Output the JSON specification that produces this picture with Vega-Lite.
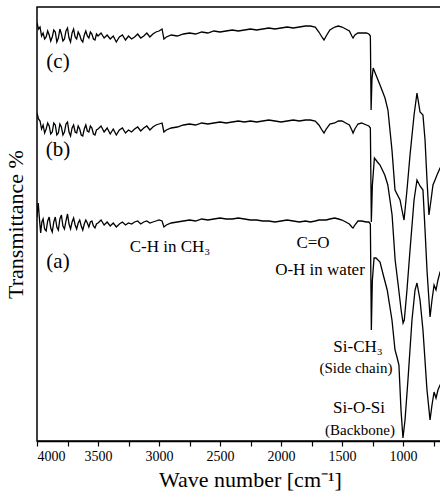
{
"$schema":"https://vega.github.io/schema/vega-lite/v6.json",
"autosize":{"type":"none"},
"padding":{"left":37,"top":7,"right":0,"bottom":53},
"width":405,"height":434,
"background":"white",
"config":{"view":{"stroke":"black","strokeWidth":1.5},"font":"Liberation Serif"},
"datasets":{
"curves":[
{"s":"c","w":4000,"t":418},{"s":"c","w":3987.5,"t":412},{"s":"c","w":3975,"t":414},{"s":"c","w":3962.5,"t":405},{"s":"c","w":3950,"t":408},{"s":"c","w":3937.5,"t":402},{"s":"c","w":3925,"t":404},{"s":"c","w":3912.5,"t":410},{"s":"c","w":3900,"t":406},{"s":"c","w":3887.5,"t":400},{"s":"c","w":3875,"t":404},{"s":"c","w":3862.5,"t":411},{"s":"c","w":3850,"t":409},{"s":"c","w":3837.5,"t":399},{"s":"c","w":3825,"t":403},{"s":"c","w":3812.5,"t":412},{"s":"c","w":3800,"t":407},{"s":"c","w":3787.5,"t":400},{"s":"c","w":3775,"t":402},{"s":"c","w":3762.5,"t":410},{"s":"c","w":3750,"t":413},{"s":"c","w":3737.5,"t":403},{"s":"c","w":3725,"t":399},{"s":"c","w":3712.5,"t":408},{"s":"c","w":3700,"t":412},{"s":"c","w":3687.5,"t":404},{"s":"c","w":3675,"t":402},{"s":"c","w":3662.5,"t":409},{"s":"c","w":3650,"t":406},{"s":"c","w":3637.5,"t":401},{"s":"c","w":3625,"t":399},{"s":"c","w":3612.5,"t":406},{"s":"c","w":3600,"t":410},{"s":"c","w":3587.5,"t":405},{"s":"c","w":3575,"t":403},{"s":"c","w":3562.5,"t":409},{"s":"c","w":3550,"t":407},{"s":"c","w":3537.5,"t":402},{"s":"c","w":3525,"t":401},{"s":"c","w":3512.5,"t":407},{"s":"c","w":3500,"t":405},{"s":"c","w":3475,"t":408},{"s":"c","w":3450,"t":403},{"s":"c","w":3425,"t":406},{"s":"c","w":3400,"t":402},{"s":"c","w":3375,"t":405},{"s":"c","w":3350,"t":399},{"s":"c","w":3325,"t":404},{"s":"c","w":3300,"t":406},{"s":"c","w":3275,"t":401},{"s":"c","w":3250,"t":405},{"s":"c","w":3225,"t":402},{"s":"c","w":3200,"t":404},{"s":"c","w":3175,"t":407},{"s":"c","w":3150,"t":403},{"s":"c","w":3125,"t":405},{"s":"c","w":3100,"t":408},{"s":"c","w":3075,"t":404},{"s":"c","w":3050,"t":407},{"s":"c","w":3025,"t":409},{"s":"c","w":3000,"t":410},{"s":"c","w":2975,"t":412},{"s":"c","w":2960,"t":402},{"s":"c","w":2940,"t":404},{"s":"c","w":2900,"t":406},{"s":"c","w":2850,"t":405},{"s":"c","w":2800,"t":407},{"s":"c","w":2750,"t":408},{"s":"c","w":2700,"t":407},{"s":"c","w":2650,"t":409},{"s":"c","w":2600,"t":408},{"s":"c","w":2550,"t":410},{"s":"c","w":2500,"t":409},{"s":"c","w":2450,"t":410},{"s":"c","w":2400,"t":411},{"s":"c","w":2350,"t":410},{"s":"c","w":2300,"t":411},{"s":"c","w":2250,"t":412},{"s":"c","w":2200,"t":411},{"s":"c","w":2150,"t":412},{"s":"c","w":2100,"t":413},{"s":"c","w":2050,"t":412},{"s":"c","w":2000,"t":413},{"s":"c","w":1950,"t":414},{"s":"c","w":1900,"t":413},{"s":"c","w":1850,"t":414},{"s":"c","w":1800,"t":415},{"s":"c","w":1760,"t":415},{"s":"c","w":1720,"t":414},{"s":"c","w":1690,"t":409},{"s":"c","w":1660,"t":403},{"s":"c","w":1648,"t":401},{"s":"c","w":1630,"t":405},{"s":"c","w":1600,"t":411},{"s":"c","w":1560,"t":414},{"s":"c","w":1530,"t":415},{"s":"c","w":1500,"t":414},{"s":"c","w":1470,"t":412},{"s":"c","w":1440,"t":410},{"s":"c","w":1420,"t":405},{"s":"c","w":1410,"t":403},{"s":"c","w":1395,"t":406},{"s":"c","w":1370,"t":408},{"s":"c","w":1340,"t":408},{"s":"c","w":1300,"t":408},{"s":"c","w":1280,"t":407},{"s":"c","w":1268,"t":405},{"s":"c","w":1262,"t":331},{"s":"c","w":1255,"t":362},{"s":"c","w":1245,"t":373},{"s":"c","w":1222,"t":366},{"s":"c","w":1189,"t":356},{"s":"c","w":1148,"t":343},{"s":"c","w":1124,"t":331},{"s":"c","w":1091,"t":291},{"s":"c","w":1066,"t":251},{"s":"c","w":1025,"t":241},{"s":"c","w":1009,"t":231},{"s":"c","w":992,"t":221},{"s":"c","w":968,"t":251},{"s":"c","w":943,"t":286},{"s":"c","w":910,"t":326},{"s":"c","w":886,"t":348},{"s":"c","w":861,"t":329},{"s":"c","w":837,"t":326},{"s":"c","w":820,"t":301},{"s":"c","w":804,"t":261},{"s":"c","w":788,"t":226},{"s":"c","w":771,"t":241},{"s":"c","w":755,"t":256},{"s":"c","w":738,"t":261},{"s":"c","w":722,"t":266},{"s":"c","w":697,"t":273},{"s":"c","w":681,"t":276},
{"s":"b","w":4000,"t":328},{"s":"b","w":3987.5,"t":322},{"s":"b","w":3975,"t":320},{"s":"b","w":3962.5,"t":312},{"s":"b","w":3950,"t":316},{"s":"b","w":3937.5,"t":308},{"s":"b","w":3925,"t":312},{"s":"b","w":3912.5,"t":318},{"s":"b","w":3900,"t":315},{"s":"b","w":3887.5,"t":307},{"s":"b","w":3875,"t":309},{"s":"b","w":3862.5,"t":318},{"s":"b","w":3850,"t":316},{"s":"b","w":3837.5,"t":306},{"s":"b","w":3825,"t":308},{"s":"b","w":3812.5,"t":317},{"s":"b","w":3800,"t":314},{"s":"b","w":3787.5,"t":306},{"s":"b","w":3775,"t":309},{"s":"b","w":3762.5,"t":317},{"s":"b","w":3750,"t":319},{"s":"b","w":3737.5,"t":309},{"s":"b","w":3725,"t":305},{"s":"b","w":3712.5,"t":313},{"s":"b","w":3700,"t":316},{"s":"b","w":3687.5,"t":309},{"s":"b","w":3675,"t":308},{"s":"b","w":3662.5,"t":315},{"s":"b","w":3650,"t":312},{"s":"b","w":3637.5,"t":306},{"s":"b","w":3625,"t":305},{"s":"b","w":3612.5,"t":312},{"s":"b","w":3600,"t":316},{"s":"b","w":3587.5,"t":310},{"s":"b","w":3575,"t":309},{"s":"b","w":3562.5,"t":315},{"s":"b","w":3550,"t":313},{"s":"b","w":3537.5,"t":307},{"s":"b","w":3525,"t":306},{"s":"b","w":3512.5,"t":311},{"s":"b","w":3500,"t":312},{"s":"b","w":3475,"t":315},{"s":"b","w":3450,"t":309},{"s":"b","w":3425,"t":313},{"s":"b","w":3400,"t":307},{"s":"b","w":3375,"t":312},{"s":"b","w":3350,"t":306},{"s":"b","w":3325,"t":311},{"s":"b","w":3300,"t":313},{"s":"b","w":3275,"t":308},{"s":"b","w":3250,"t":311},{"s":"b","w":3225,"t":309},{"s":"b","w":3200,"t":312},{"s":"b","w":3175,"t":314},{"s":"b","w":3150,"t":310},{"s":"b","w":3125,"t":313},{"s":"b","w":3100,"t":315},{"s":"b","w":3075,"t":311},{"s":"b","w":3050,"t":314},{"s":"b","w":3025,"t":316},{"s":"b","w":3000,"t":317},{"s":"b","w":2975,"t":318},{"s":"b","w":2960,"t":309},{"s":"b","w":2940,"t":311},{"s":"b","w":2900,"t":313},{"s":"b","w":2850,"t":314},{"s":"b","w":2800,"t":316},{"s":"b","w":2750,"t":317},{"s":"b","w":2700,"t":316},{"s":"b","w":2650,"t":318},{"s":"b","w":2600,"t":317},{"s":"b","w":2550,"t":318},{"s":"b","w":2500,"t":319},{"s":"b","w":2450,"t":318},{"s":"b","w":2400,"t":319},{"s":"b","w":2350,"t":320},{"s":"b","w":2300,"t":319},{"s":"b","w":2250,"t":320},{"s":"b","w":2200,"t":319},{"s":"b","w":2150,"t":320},{"s":"b","w":2100,"t":321},{"s":"b","w":2050,"t":320},{"s":"b","w":2000,"t":319},{"s":"b","w":1950,"t":320},{"s":"b","w":1900,"t":321},{"s":"b","w":1850,"t":320},{"s":"b","w":1800,"t":321},{"s":"b","w":1760,"t":321},{"s":"b","w":1720,"t":320},{"s":"b","w":1690,"t":316},{"s":"b","w":1660,"t":310},{"s":"b","w":1648,"t":308},{"s":"b","w":1630,"t":312},{"s":"b","w":1600,"t":317},{"s":"b","w":1560,"t":318},{"s":"b","w":1530,"t":320},{"s":"b","w":1500,"t":320},{"s":"b","w":1470,"t":318},{"s":"b","w":1440,"t":316},{"s":"b","w":1420,"t":311},{"s":"b","w":1410,"t":308},{"s":"b","w":1395,"t":312},{"s":"b","w":1370,"t":317},{"s":"b","w":1340,"t":318},{"s":"b","w":1300,"t":316},{"s":"b","w":1280,"t":315},{"s":"b","w":1268,"t":313},{"s":"b","w":1260,"t":219},{"s":"b","w":1252,"t":255},{"s":"b","w":1235,"t":283},{"s":"b","w":1210,"t":279},{"s":"b","w":1189,"t":276},{"s":"b","w":1150,"t":266},{"s":"b","w":1125,"t":256},{"s":"b","w":1090,"t":226},{"s":"b","w":1065,"t":181},{"s":"b","w":1040,"t":156},{"s":"b","w":1015,"t":130},{"s":"b","w":1000,"t":118},{"s":"b","w":990,"t":121},{"s":"b","w":968,"t":151},{"s":"b","w":943,"t":191},{"s":"b","w":910,"t":241},{"s":"b","w":886,"t":261},{"s":"b","w":861,"t":255},{"s":"b","w":837,"t":251},{"s":"b","w":820,"t":211},{"s":"b","w":804,"t":171},{"s":"b","w":779,"t":124},{"s":"b","w":763,"t":141},{"s":"b","w":746,"t":156},{"s":"b","w":730,"t":151},{"s":"b","w":714,"t":161},{"s":"b","w":697,"t":169},{"s":"b","w":681,"t":171},
{"s":"a","w":4000,"t":224},{"s":"a","w":3990,"t":238},{"s":"a","w":3980,"t":222},{"s":"a","w":3970,"t":208},{"s":"a","w":3960,"t":219},{"s":"a","w":3950,"t":222},{"s":"a","w":3937.5,"t":212},{"s":"a","w":3925,"t":210},{"s":"a","w":3912.5,"t":220},{"s":"a","w":3900,"t":224},{"s":"a","w":3887.5,"t":213},{"s":"a","w":3875,"t":209},{"s":"a","w":3862.5,"t":219},{"s":"a","w":3850,"t":224},{"s":"a","w":3837.5,"t":214},{"s":"a","w":3825,"t":211},{"s":"a","w":3812.5,"t":222},{"s":"a","w":3800,"t":226},{"s":"a","w":3787.5,"t":215},{"s":"a","w":3775,"t":212},{"s":"a","w":3762.5,"t":220},{"s":"a","w":3750,"t":227},{"s":"a","w":3737.5,"t":217},{"s":"a","w":3725,"t":212},{"s":"a","w":3712.5,"t":219},{"s":"a","w":3700,"t":223},{"s":"a","w":3687.5,"t":216},{"s":"a","w":3675,"t":212},{"s":"a","w":3662.5,"t":218},{"s":"a","w":3650,"t":221},{"s":"a","w":3637.5,"t":215},{"s":"a","w":3625,"t":211},{"s":"a","w":3612.5,"t":217},{"s":"a","w":3600,"t":221},{"s":"a","w":3587.5,"t":218},{"s":"a","w":3575,"t":214},{"s":"a","w":3562.5,"t":219},{"s":"a","w":3550,"t":220},{"s":"a","w":3537.5,"t":215},{"s":"a","w":3525,"t":213},{"s":"a","w":3512.5,"t":217},{"s":"a","w":3500,"t":218},{"s":"a","w":3475,"t":221},{"s":"a","w":3450,"t":216},{"s":"a","w":3425,"t":219},{"s":"a","w":3400,"t":215},{"s":"a","w":3375,"t":218},{"s":"a","w":3350,"t":214},{"s":"a","w":3325,"t":217},{"s":"a","w":3300,"t":219},{"s":"a","w":3275,"t":216},{"s":"a","w":3250,"t":218},{"s":"a","w":3225,"t":217},{"s":"a","w":3200,"t":219},{"s":"a","w":3175,"t":220},{"s":"a","w":3150,"t":217},{"s":"a","w":3125,"t":219},{"s":"a","w":3100,"t":220},{"s":"a","w":3075,"t":218},{"s":"a","w":3050,"t":219},{"s":"a","w":3025,"t":220},{"s":"a","w":3000,"t":221},{"s":"a","w":2975,"t":220},{"s":"a","w":2960,"t":214},{"s":"a","w":2940,"t":216},{"s":"a","w":2900,"t":218},{"s":"a","w":2850,"t":219},{"s":"a","w":2800,"t":220},{"s":"a","w":2750,"t":221},{"s":"a","w":2700,"t":220},{"s":"a","w":2650,"t":222},{"s":"a","w":2600,"t":221},{"s":"a","w":2550,"t":222},{"s":"a","w":2500,"t":223},{"s":"a","w":2450,"t":222},{"s":"a","w":2400,"t":222},{"s":"a","w":2350,"t":223},{"s":"a","w":2300,"t":222},{"s":"a","w":2250,"t":221},{"s":"a","w":2200,"t":221},{"s":"a","w":2150,"t":220},{"s":"a","w":2100,"t":220},{"s":"a","w":2050,"t":219},{"s":"a","w":2000,"t":220},{"s":"a","w":1950,"t":221},{"s":"a","w":1900,"t":220},{"s":"a","w":1850,"t":219},{"s":"a","w":1800,"t":220},{"s":"a","w":1760,"t":219},{"s":"a","w":1720,"t":220},{"s":"a","w":1690,"t":221},{"s":"a","w":1660,"t":221},{"s":"a","w":1630,"t":221},{"s":"a","w":1600,"t":222},{"s":"a","w":1560,"t":223},{"s":"a","w":1530,"t":222},{"s":"a","w":1500,"t":221},{"s":"a","w":1470,"t":219},{"s":"a","w":1440,"t":217},{"s":"a","w":1420,"t":214},{"s":"a","w":1410,"t":213},{"s":"a","w":1395,"t":216},{"s":"a","w":1370,"t":220},{"s":"a","w":1340,"t":220},{"s":"a","w":1300,"t":219},{"s":"a","w":1280,"t":219},{"s":"a","w":1268,"t":217},{"s":"a","w":1260,"t":111},{"s":"a","w":1252,"t":160},{"s":"a","w":1238,"t":183},{"s":"a","w":1222,"t":183},{"s":"a","w":1189,"t":179},{"s":"a","w":1160,"t":165},{"s":"a","w":1130,"t":151},{"s":"a","w":1091,"t":121},{"s":"a","w":1066,"t":91},{"s":"a","w":1050,"t":84},{"s":"a","w":1034,"t":76},{"s":"a","w":1017,"t":31},{"s":"a","w":1001,"t":3},{"s":"a","w":984,"t":21},{"s":"a","w":960,"t":61},{"s":"a","w":927,"t":121},{"s":"a","w":902,"t":151},{"s":"a","w":886,"t":158},{"s":"a","w":861,"t":141},{"s":"a","w":837,"t":111},{"s":"a","w":804,"t":51},{"s":"a","w":779,"t":21},{"s":"a","w":763,"t":36},{"s":"a","w":746,"t":49},{"s":"a","w":730,"t":43},{"s":"a","w":714,"t":51},{"s":"a","w":697,"t":56},{"s":"a","w":681,"t":58}
],
"labels":[
{"w":3828,"t":379,"text":"(c)","kind":"big"},
{"w":3828,"t":291,"text":"(b)","kind":"big"},
{"w":3828,"t":179,"text":"(a)","kind":"big"},
{"w":2910,"t":194,"text":"C-H in CH₃","kind":"mid"},
{"w":1738,"t":198,"text":"C=O","kind":"mid"},
{"w":1681,"t":171,"text":"O-H in water","kind":"mid"},
{"w":1369,"t":94,"text":"Si-CH₃","kind":"mid"},
{"w":1386,"t":73,"text":"(Side chain)","kind":"small"},
{"w":1361,"t":33,"text":"Si-O-Si","kind":"mid"},
{"w":1353,"t":11,"text":"(Backbone)","kind":"small"}
]
},
"encoding":{
"x":{"field":"w","type":"quantitative","scale":{"domain":[4000,681],"nice":false,"zero":false},
"axis":{"title":"Wave number [cm⁻¹]","values":[4000,3750,3500,3250,3000,2750,2500,2250,2000,1750,1500,1250,1000,750],
"labelExpr":"datum.value % 500 === 0 ? format(datum.value,'d') : ''","labelFont":"Liberation Serif","labelFontSize":14,"labelColor":"black","labelPadding":3,
"tickColor":"black","tickSize":5,"tickWidth":1.2,"domainColor":"black","domainWidth":1.5,"grid":false,
"titleFont":"Liberation Serif","titleFontSize":22,"titleFontWeight":"normal","titleColor":"black","titleX":213,"titleY":45,"titleBaseline":"alphabetic"}},
"y":{"field":"t","type":"quantitative","scale":{"domain":[0,434],"nice":false,"zero":false},
"axis":{"title":"Transmittance %","labels":false,"ticks":false,"domain":false,"grid":false,
"titleFont":"Liberation Serif","titleFontSize":22,"titleFontWeight":"normal","titleColor":"black","titleX":-10,"titleBaseline":"bottom"}}
},
"layer":[
{"data":{"name":"curves"},"mark":{"type":"line","color":"black","strokeWidth":1.3,"clip":true,"interpolate":"linear"},
"encoding":{"detail":{"field":"s","type":"nominal"},"order":{"field":"w","type":"quantitative","sort":"descending"}}},
{"data":{"name":"labels"},"transform":[{"filter":"datum.kind === 'big'"}],"mark":{"type":"text","font":"Liberation Serif","fontSize":21,"color":"black","align":"center","baseline":"middle"},"encoding":{"text":{"field":"text"}}},
{"data":{"name":"labels"},"transform":[{"filter":"datum.kind === 'mid'"}],"mark":{"type":"text","font":"Liberation Serif","fontSize":17,"color":"black","align":"center","baseline":"middle"},"encoding":{"text":{"field":"text"}}},
{"data":{"name":"labels"},"transform":[{"filter":"datum.kind === 'small'"}],"mark":{"type":"text","font":"Liberation Serif","fontSize":15,"color":"black","align":"center","baseline":"middle"},"encoding":{"text":{"field":"text"}}}
]
}
